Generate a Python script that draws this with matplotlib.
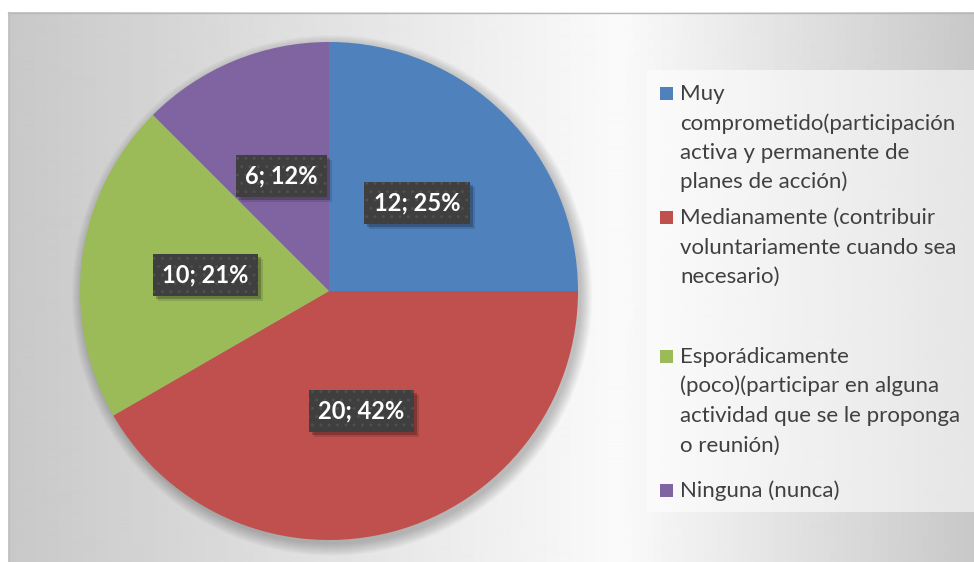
import numpy as np
import matplotlib.pyplot as plt
from matplotlib.patches import Rectangle, Circle
from matplotlib.transforms import IdentityTransform

# datos del grafico
categorias = [
    "Muy\ncomprometido(participación\nactiva y permanente de\nplanes de acción)",
    "Medianamente (contribuir\nvoluntariamente cuando sea\nnecesario)",
    "Esporádicamente\n(poco)(participar en alguna\nactividad que se le proponga\no reunión)",
    "Ninguna (nunca)",
]
valores = [12, 20, 10, 6]
colores = ['#4F81BD', '#C0504D', '#9BBB59', '#8064A2']

# posiciones de la leyenda (px desde arriba, linea base de la primera linea)
leyenda_y = [100, 224, 363, 497]
paso = 29.5

plt.rcParams['hatch.linewidth'] = 0.9

fig = plt.figure(figsize=(9.74, 5.62), dpi=100, facecolor='white')

# fondo con degradado
bg = fig.add_axes([0, 0, 1, 1], zorder=0)
xs = np.arange(8, 974) + 0.5
v = np.where(xs < 620, 1 - (620 - xs) / 612, 1 - (xs - 620) / 354)
grad = (200 + 50 * v) / 255.0
img = np.tile(grad, (2, 1))
bg.imshow(img, cmap='gray', vmin=0, vmax=1, extent=(8, 974, 562, 12),
          aspect='auto', interpolation='bilinear')
bg.plot([8, 974], [12.5, 12.5], color='#b8b8b8', lw=1)
bg.plot([8.5, 8.5], [12, 562], color='#c0c0c0', lw=1)
bg.set_xlim(0, 974)
bg.set_ylim(562, 0)
bg.axis('off')

# leyenda
bg.add_patch(Rectangle((647, 70), 327, 442, fc='white', alpha=0.55, ec='none'))
for cat, col, y0 in zip(categorias, colores, leyenda_y):
    bg.add_patch(Rectangle((660, y0 - 13), 13, 13, fc=col, ec='none'))
    for k, linea in enumerate(cat.split('\n')):
        bg.text(680, y0 + k * paso, linea, fontsize=16, family='Lato',
                color='#404040', va='baseline', ha='left')

# torta
ax = fig.add_axes([80 / 974, 22 / 562, 498 / 974, 498 / 562], zorder=1)
total = sum(valores)

# sombra de la torta
for i in range(10):
    ax.add_patch(Circle((0.012, -0.018), 1 + 0.005 * i, fc='black',
                        alpha=0.025, ec='none', zorder=0.5, clip_on=False))

wedges, _, autotexts = ax.pie(
    valores, colors=colores, startangle=90, counterclock=False, radius=1,
    pctdistance=0.5, wedgeprops=dict(linewidth=0),
    autopct=lambda p: f'{round(p * total / 100)}; {p:.0f}%')

for t in autotexts:
    t.set_fontsize(17)
    t.set_family('Lato')
    t.set_fontweight('bold')
    t.set_color('white')
    t.set_zorder(4)
    t.set_bbox(dict(boxstyle='square,pad=0.4', fc='#3f3f3f', ec='#505050',
                    lw=0, hatch='..'))

ax.set_xlim(-1, 1)
ax.set_ylim(-1, 1)
ax.axis('off')

# sombra de las etiquetas (rectangulos desplazados)
fig.canvas.draw()
for t in autotexts:
    bb = t.get_bbox_patch().get_window_extent()
    for dx, a in [(3, 0.22), (5, 0.12)]:
        ax.add_patch(Rectangle((bb.x0 + dx, bb.y0 - dx), bb.width, bb.height,
                               transform=IdentityTransform(), fc='black',
                               ec='none', alpha=a, zorder=3.5))

fig.savefig('out.png', dpi=100)
